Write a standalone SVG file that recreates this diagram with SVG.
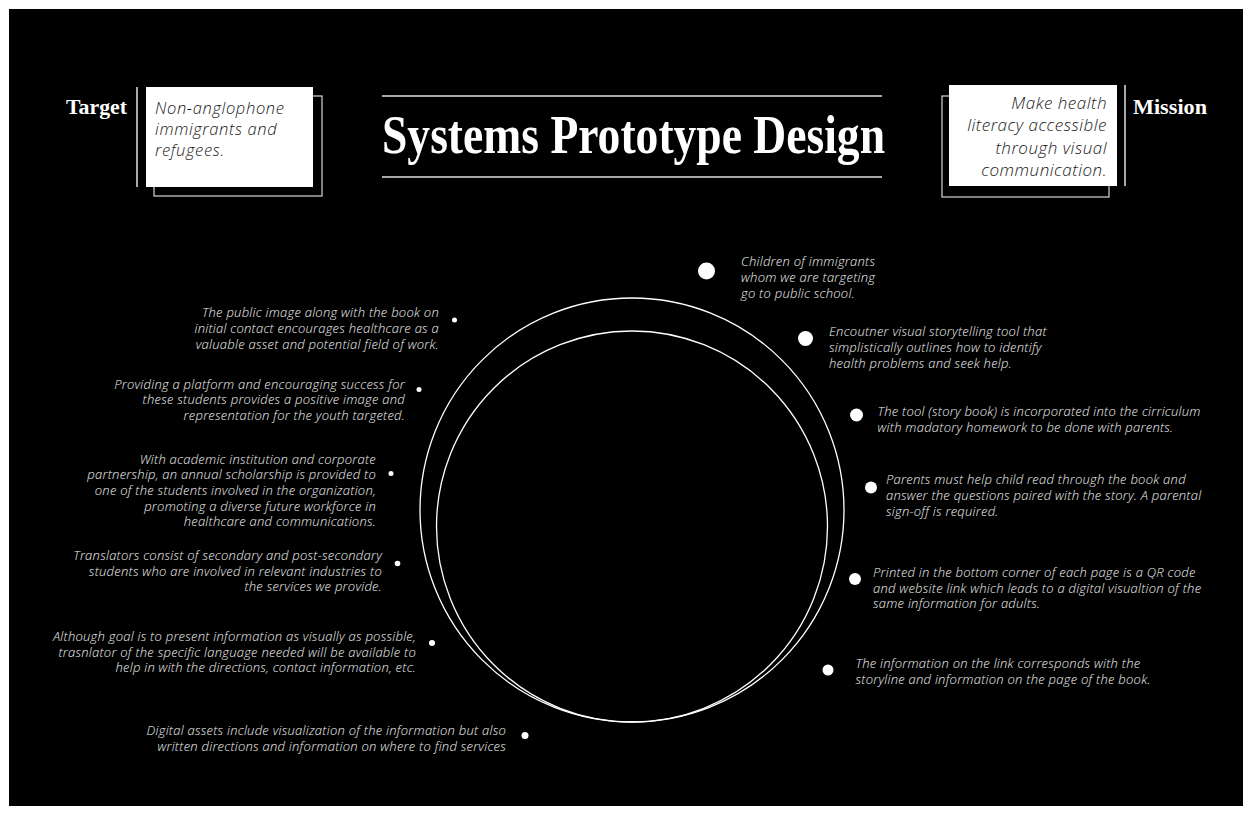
<svg xmlns="http://www.w3.org/2000/svg" width="1252" height="813" viewBox="0 0 1252 813">
  <style>
    .head { font-family: "Liberation Serif", "DejaVu Serif", serif; font-weight: bold; fill: #ffffff; }
    .boxtxt { font-family: "Open Sans", Lato, sans-serif; font-style: italic; font-weight: 300; font-size: 17px; letter-spacing: 0.5px; fill: #1a1a1a; }
    .tight { font-size: 16.5px; letter-spacing: 0.65px; }
    .note { font-family: "Open Sans", Lato, sans-serif; font-style: italic; font-weight: 300; font-size: 13px; letter-spacing: 0.25px; fill: #f2f2f2; }
    .rule { stroke: #e0e0e0; stroke-width: 1.5; fill: none; }
    .ring { stroke: #ffffff; stroke-width: 1.3; fill: none; }
    .dot { fill: #ffffff; }
    .right { text-anchor: end; }
  </style>

  <!-- page -->
  <rect x="0" y="0" width="1252" height="813" fill="#ffffff"/>
  <rect x="9" y="9" width="1234" height="797" fill="#000000"/>

  <!-- title block -->
  <g id="title">
    <line class="rule" x1="382" y1="96" x2="882" y2="96"/>
    <text class="head" x="382" y="153" font-size="54" textLength="503" lengthAdjust="spacingAndGlyphs">Systems Prototype Design</text>
    <line class="rule" x1="382" y1="177" x2="882" y2="177"/>
  </g>

  <!-- target card -->
  <g id="target">
    <text class="head" x="66" y="114" font-size="20" textLength="61" lengthAdjust="spacingAndGlyphs">Target</text>
    <line class="rule" x1="137" y1="87" x2="137" y2="187"/>
    <rect x="154" y="96" width="168" height="100" fill="none" stroke="#d8d8d8" stroke-width="1.2"/>
    <rect x="146" y="87" width="167" height="100" fill="#ffffff"/>
    <text class="boxtxt tight" x="155" y="114">Non-anglophone</text>
    <text class="boxtxt tight" x="155" y="135">immigrants and</text>
    <text class="boxtxt tight" x="155" y="156">refugees.</text>
  </g>

  <!-- mission card -->
  <g id="mission">
    <rect x="942" y="96" width="167" height="101" fill="none" stroke="#d8d8d8" stroke-width="1.2"/>
    <rect x="949" y="85" width="168" height="101" fill="#ffffff"/>
    <line class="rule" x1="1125" y1="85" x2="1125" y2="186"/>
    <text class="head" x="1133" y="114" font-size="20" textLength="74" lengthAdjust="spacingAndGlyphs">Mission</text>
    <text class="boxtxt right" x="1107" y="109">Make health</text>
    <text class="boxtxt right" x="1107" y="131">literacy accessible</text>
    <text class="boxtxt right" x="1107" y="154">through visual</text>
    <text class="boxtxt right" x="1107" y="176">communication.</text>
  </g>

  <!-- the two rings -->
  <g id="connectors">
    <circle class="ring" cx="632" cy="510" r="212"/>
    <circle class="ring" cx="632" cy="526.5" r="195.5"/>
  </g>

  <!-- right-hand steps -->
  <g id="step-r1">
    <circle class="dot" cx="706.5" cy="271" r="8.5"/>
    <text class="note" x="741" y="266">Children of immigrants</text>
    <text class="note" x="741" y="282">whom we are targeting</text>
    <text class="note" x="741" y="297.5">go to public school.</text>
  </g>
  <g id="step-r2">
    <circle class="dot" cx="805.5" cy="338.5" r="7.5"/>
    <text class="note" x="829" y="336">Encoutner visual storytelling tool that</text>
    <text class="note" x="829" y="352">simplistically outlines how to identify</text>
    <text class="note" x="829" y="367.5">health problems and seek help.</text>
  </g>
  <g id="step-r3">
    <circle class="dot" cx="856.5" cy="415" r="6.5"/>
    <text class="note" x="877.5" y="416">The tool (story book) is incorporated into the cirriculum</text>
    <text class="note" x="877.5" y="432">with madatory homework to be done with parents.</text>
  </g>
  <g id="step-r4">
    <circle class="dot" cx="871" cy="487.5" r="6"/>
    <text class="note" x="886" y="484">Parents must help child read through the book and</text>
    <text class="note" x="886" y="500">answer the questions paired with the story. A parental</text>
    <text class="note" x="886" y="516">sign-off is required.</text>
  </g>
  <g id="step-r5">
    <circle class="dot" cx="855" cy="579" r="6"/>
    <text class="note" x="873" y="577">Printed in the bottom corner of each page is a QR code</text>
    <text class="note" x="873" y="592.5">and website link which leads to a digital visualtion of the</text>
    <text class="note" x="873" y="608">same information for adults.</text>
  </g>
  <g id="step-r6">
    <circle class="dot" cx="828" cy="670" r="5.5"/>
    <text class="note" x="855.5" y="668">The information on the link corresponds with the</text>
    <text class="note" x="855.5" y="684">storyline and information on the page of the book.</text>
  </g>

  <!-- left-hand points -->
  <g id="point-l1">
    <circle class="dot" cx="454.5" cy="320" r="2.5"/>
    <text class="note right" x="439" y="317">The public image along with the book on</text>
    <text class="note right" x="439" y="332.5">initial contact encourages healthcare as a</text>
    <text class="note right" x="439" y="348.5">valuable asset and potential field of work.</text>
  </g>
  <g id="point-l2">
    <circle class="dot" cx="419" cy="389.5" r="2.5"/>
    <text class="note right" x="405" y="388.5">Providing a platform and encouraging success for</text>
    <text class="note right" x="405" y="404">these students provides a positive image and</text>
    <text class="note right" x="405" y="420">representation for the youth targeted.</text>
  </g>
  <g id="point-l3">
    <circle class="dot" cx="391" cy="473.5" r="2.5"/>
    <text class="note right" x="376" y="463.5">With academic institution and corporate</text>
    <text class="note right" x="376" y="479">partnership, an annual scholarship is provided to</text>
    <text class="note right" x="376" y="495">one of the students involved in the organization,</text>
    <text class="note right" x="376" y="510.5">promoting a diverse future workforce in</text>
    <text class="note right" x="376" y="526">healthcare and communications.</text>
  </g>
  <g id="point-l4">
    <circle class="dot" cx="397.5" cy="563.5" r="2.8"/>
    <text class="note right" x="382" y="560">Translators consist of secondary and post-secondary</text>
    <text class="note right" x="382" y="575.5">students who are involved in relevant industries to</text>
    <text class="note right" x="382" y="591">the services we provide.</text>
  </g>
  <g id="point-l5">
    <circle class="dot" cx="432" cy="643" r="3"/>
    <text class="note right" x="416" y="641">Although goal is to present information as visually as possible,</text>
    <text class="note right" x="416" y="656.5">trasnlator of the specific language needed will be available to</text>
    <text class="note right" x="416" y="672">help in with the directions, contact information, etc.</text>
  </g>
  <g id="point-l6">
    <circle class="dot" cx="525" cy="735.5" r="3.5"/>
    <text class="note right" x="506" y="734.5">Digital assets include visualization of the information but also</text>
    <text class="note right" x="506" y="750.5">written directions and information on where to find services</text>
  </g>
</svg>
